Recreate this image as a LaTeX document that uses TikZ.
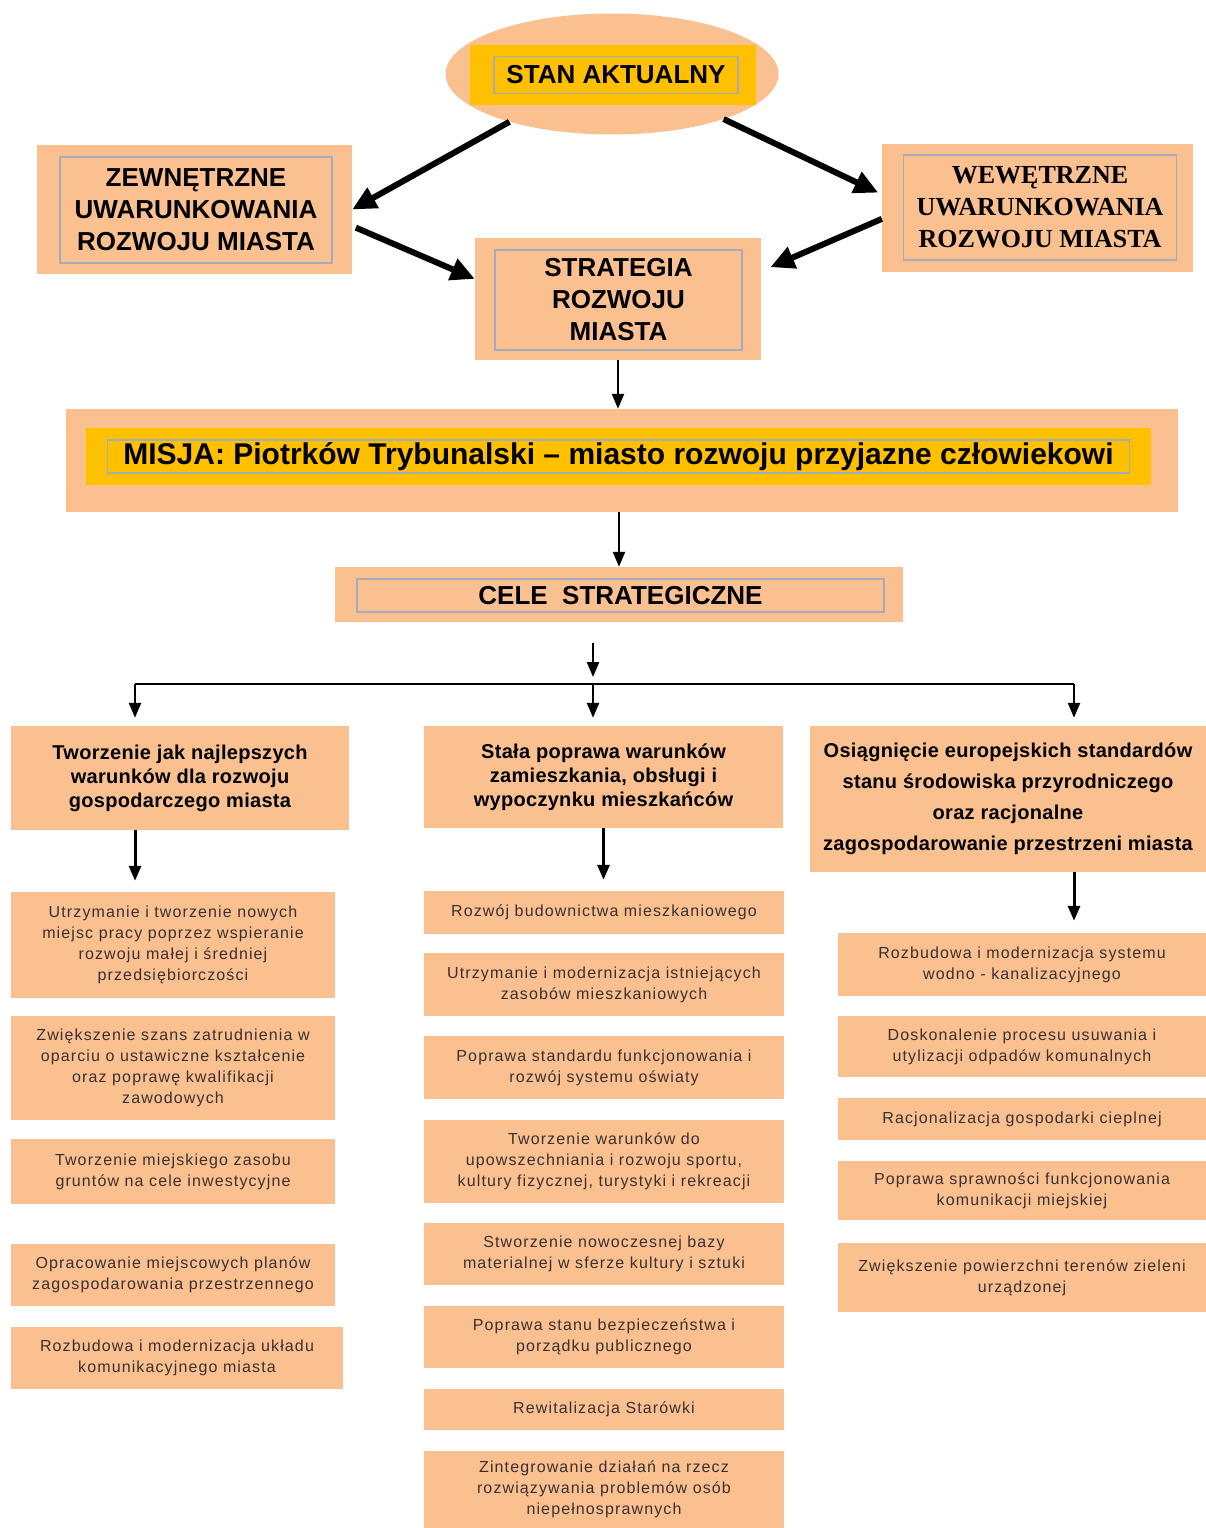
\documentclass[tikz,border=0pt]{standalone}
\usepackage{fontspec}
\setmainfont{Liberation Sans}
\newfontfamily\serifhead{Liberation Serif}
\newfontfamily\goalfont[LetterSpace=1.5]{Liberation Sans}
\newfontfamily\itemfont[LetterSpace=7]{Liberation Sans}
\usetikzlibrary{arrows.meta, positioning, shapes.geometric, calc}

\definecolor{peach}{HTML}{FAC090}
\definecolor{gold}{HTML}{FFC000}
\definecolor{framegrey}{HTML}{A4ACBC}
\definecolor{itemink}{HTML}{3A3030}

\tikzset{
  peachbox/.style={fill=peach, inner sep=0pt},
  goldbox/.style={fill=gold, inner sep=0pt},
  greyframe/.style={draw=framegrey, line width=1.2pt, inner sep=0pt, align=center,
    font=\fontsize{26}{32}\selectfont\bfseries},
  goal/.style={fill=peach, inner sep=0pt, align=center,
    font=\goalfont\fontsize{20}{24}\selectfont\bfseries},
  task/.style={fill=peach, inner sep=0pt, align=center, text=itemink,
    font=\itemfont\fontsize{16}{21}\selectfont},
  bigarrow/.style={line width=6pt, -{Triangle[length=24pt,width=22pt]}},
  thinarrow/.style={line width=2.4pt, -{Triangle[length=15pt,width=12pt]}},
}

\begin{document}
\begin{tikzpicture}[x=1pt, y=-1pt]
\useasboundingbox (0,0) rectangle (1206,1528);

\node[ellipse, fill=peach, inner sep=0pt, minimum width=333pt, minimum height=121pt] (stan) at (612,74) {};
\node[goldbox, minimum width=286pt, minimum height=60pt] (stanyel) at (613,75) {};
\node[greyframe, minimum width=244pt, minimum height=37pt] (stantxt) at (616,75) {STAN AKTUALNY};

\node[peachbox, minimum width=315pt, minimum height=129pt] (zew) at (194.5,209.5) {};
\node[greyframe, minimum width=272pt, minimum height=106pt] (zewtxt) at (196,210) {ZEWNĘTRZNE\\UWARUNKOWANIA\\ROZWOJU MIASTA};

\node[peachbox, minimum width=311pt, minimum height=128pt] (wew) at (1037.5,208) {};
\node[greyframe, font=\serifhead\fontsize{26}{32}\selectfont\bfseries, minimum width=273pt, minimum height=105pt] (wewtxt) at (1040,207.5) {WEWĘTRZNE\\UWARUNKOWANIA\\ROZWOJU MIASTA};

\node[peachbox, minimum width=286pt, minimum height=122pt] (strat) at (618,299) {};
\node[greyframe, minimum width=247pt, minimum height=100pt] (strattxt) at (618.5,300) {STRATEGIA\\ROZWOJU\\MIASTA};

\draw[bigarrow] (stan.205) -- (zew.east);
\draw[bigarrow, shorten >=4pt] (stan.338) -- (wew.175);
\draw[bigarrow, shorten <=4pt] (zew.-6) -- (strat.172);
\draw[bigarrow, shorten >=10pt] (wew.184) -- (strat.11);

\node[peachbox, minimum width=1112pt, minimum height=103pt] (misja) at (622,460.5) {};
\node[goldbox, minimum width=1065pt, minimum height=57pt] (misjayel) at (618.5,456.5) {};
\node[greyframe, font=\fontsize{30}{36}\selectfont\bfseries, minimum width=1022pt, minimum height=33pt] (misjatxt) at (618.5,456.5) {MISJA: Piotrków Trybunalski – miasto rozwoju przyjazne człowiekowi};

\node[peachbox, minimum width=568pt, minimum height=55pt] (cele) at (619,594.5) {};
\node[greyframe, minimum width=527pt, minimum height=33pt] (celetxt) at (620.5,595.5) {CELE~~STRATEGICZNE};

\draw[thinarrow] (strat.south) -- (strat.south |- misja.north);
\draw[thinarrow] (cele.north |- misja.south) -- (cele.north);

% rozgalezienie na trzy cele
\coordinate (busL) at (135,684);
\coordinate (busM) at (593,684);
\coordinate (busR) at (1074,684);
\draw[thinarrow] ($(cele.south -| busM)+(0,21)$) -- ($(busM)+(0,-7)$);
\draw[line width=2pt] (busL) -- (busR);

\node[goal, minimum width=338pt, minimum height=104pt] (g1) at (180,778) {Tworzenie jak najlepszych\\warunków dla rozwoju\\gospodarczego miasta};
\node[goal, minimum width=359pt, minimum height=102pt] (g2) at (603.5,777) {Stała poprawa warunków\\zamieszkania, obsługi i\\wypoczynku mieszkańców};
\node[goal, font=\goalfont\fontsize{20}{31}\selectfont\bfseries, minimum width=396pt, minimum height=146pt] (g3) at (1008,799) {Osiągnięcie europejskich standardów\\stanu środowiska przyrodniczego\\oraz racjonalne\\zagospodarowanie przestrzeni miasta};

\foreach \b/\g in {busL/g1, busM/g2, busR/g3}
  \draw[thinarrow, shorten >=8pt] (\b) -- (\b |- \g.north);

\node[task, minimum width=324pt, minimum height=106pt] (a1) at (173,945) {Utrzymanie i tworzenie nowych\\miejsc pracy poprzez wspieranie\\rozwoju małej i średniej\\przedsiębiorczości};
\node[task, minimum width=324pt, minimum height=104pt] (a2) at (173,1068) {Zwiększenie szans zatrudnienia w\\oparciu o ustawiczne kształcenie\\oraz poprawę kwalifikacji\\zawodowych};
\node[task, minimum width=324pt, minimum height=65pt] (a3) at (173,1171.5) {Tworzenie miejskiego zasobu\\gruntów na cele inwestycyjne};
\node[task, minimum width=324pt, minimum height=62pt] (a4) at (173,1275) {Opracowanie miejscowych planów\\zagospodarowania przestrzennego};
\node[task, minimum width=332pt, minimum height=62pt] (a5) at (177,1358) {Rozbudowa i modernizacja układu\\komunikacyjnego miasta};

\node[task, minimum width=360pt, minimum height=43pt] (b1) at (604,912.5) {Rozwój budownictwa mieszkaniowego};
\node[task, minimum width=360pt, minimum height=63pt] (b2) at (604,984.5) {Utrzymanie i modernizacja istniejących\\zasobów mieszkaniowych};
\node[task, minimum width=360pt, minimum height=63pt] (b3) at (604,1067.5) {Poprawa standardu funkcjonowania i\\rozwój systemu oświaty};
\node[task, minimum width=360pt, minimum height=83pt] (b4) at (604,1161.5) {Tworzenie warunków do\\upowszechniania i rozwoju sportu,\\kultury fizycznej, turystyki i rekreacji};
\node[task, minimum width=360pt, minimum height=62pt] (b5) at (604,1254) {Stworzenie nowoczesnej bazy\\materialnej w sferze kultury i sztuki};
\node[task, minimum width=360pt, minimum height=62pt] (b6) at (604,1337) {Poprawa stanu bezpieczeństwa i\\porządku publicznego};
\node[task, minimum width=360pt, minimum height=41pt] (b7) at (604,1409.5) {Rewitalizacja Starówki};
\node[task, minimum width=360pt, minimum height=77pt] (b8) at (604,1489.5) {Zintegrowanie działań na rzecz\\rozwiązywania problemów osób\\niepełnosprawnych};

\node[task, minimum width=368pt, minimum height=63pt] (c1) at (1022,964.5) {Rozbudowa i modernizacja systemu\\wodno - kanalizacyjnego};
\node[task, minimum width=368pt, minimum height=61pt] (c2) at (1022,1046.5) {Doskonalenie procesu usuwania i\\utylizacji odpadów komunalnych};
\node[task, minimum width=368pt, minimum height=42pt] (c3) at (1022,1119) {Racjonalizacja gospodarki cieplnej};
\node[task, minimum width=368pt, minimum height=59pt] (c4) at (1022,1190.5) {Poprawa sprawności funkcjonowania\\komunikacji miejskiej};
\node[task, minimum width=368pt, minimum height=69pt] (c5) at (1022,1277.5) {Zwiększenie powierzchni terenów zieleni\\urządzonej};

\draw[thinarrow, line width=3pt, shorten >=11pt] (g1.south -| busL) -- (a1.north -| busL);
\draw[thinarrow, line width=3pt, shorten >=11pt] (g2.south) -- (b1.north -| g2.south);
\draw[thinarrow, line width=3pt, shorten >=12pt] (g3.south -| busR) -- (c1.north -| busR);
\end{tikzpicture}
\end{document}
